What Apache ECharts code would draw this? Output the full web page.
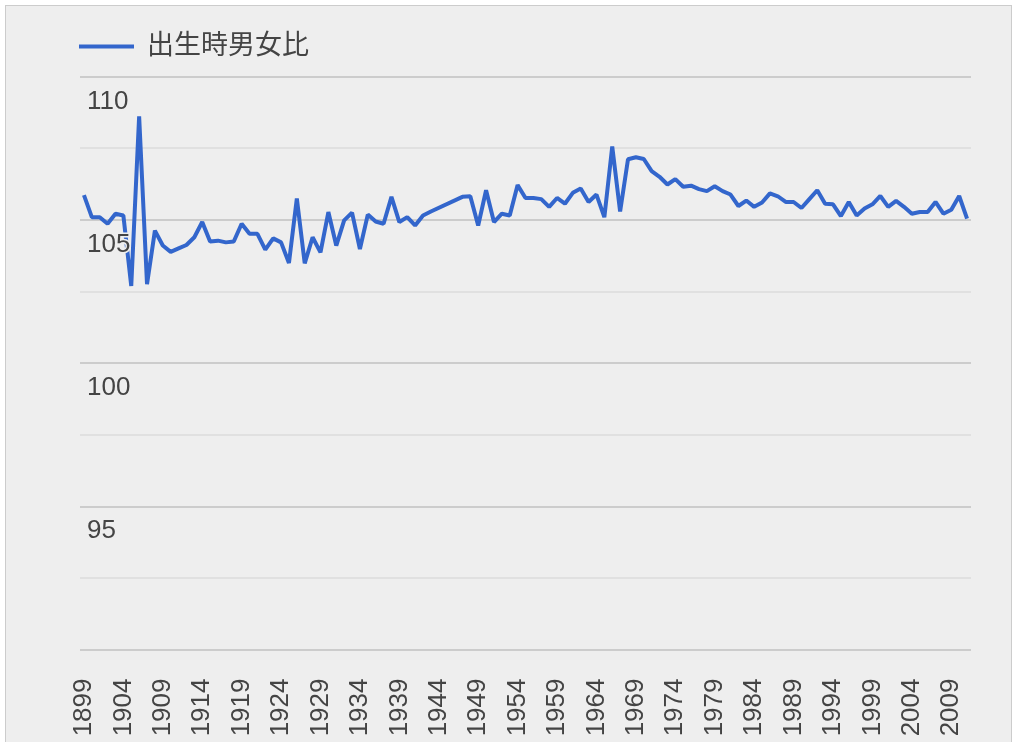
<!DOCTYPE html>
<html>
<head>
<meta charset="utf-8">
<title>出生時男女比</title>
<script src="https://cdn.jsdelivr.net/npm/echarts@6/dist/echarts.min.js"></script>
<style>
  html, body { margin: 0; padding: 0; background: #ffffff; overflow: hidden; }
  #frame {
    position: absolute; left: 5px; top: 5px; width: 1005px; height: 760px;
    border: 1px solid #cccccc; background: #eeeeee;
  }
  #chart { position: absolute; left: 0; top: 0; width: 1017px; height: 742px; }
</style>
</head>
<body>
<div id="frame"></div>
<div id="chart"></div>
<script>
  // --- Data ---
  var firstYear = 1899;
  var lastYear = 2011;
  var seriesName = '出生時男女比';

  // 1944-1946: no data (line joins 1943 to 1947)
  var ratios = [
    105.86, 105.09, 105.09, 104.86, 105.21, 105.15, 102.69, 108.61, 102.75, 104.62, // 1899-1908
    104.10, 103.88, 104.00, 104.12, 104.39, 104.92, 104.24, 104.27, 104.21, 104.24, // 1909-1918
    104.86, 104.51, 104.51, 103.96, 104.35, 104.21, 103.49, 105.74, 103.48, 104.39, // 1919-1928
    103.86, 105.27, 104.10, 104.98, 105.25, 103.98, 105.18, 104.94, 104.86, 105.80, // 1929-1938
    104.92, 105.09, 104.80, 105.15, 105.29, null, null, null, 105.80, 105.82,       // 1939-1948
    104.80, 106.03, 104.92, 105.21, 105.15, 106.21, 105.76, 105.76, 105.72, 105.45, // 1949-1958
    105.76, 105.56, 105.94, 106.09, 105.62, 105.88, 105.09, 107.56, 105.29, 107.11, // 1959-1968
    107.18, 107.12, 106.70, 106.50, 106.23, 106.42, 106.15, 106.19, 106.07, 106.00, // 1969-1978
    106.17, 106.00, 105.88, 105.48, 105.67, 105.45, 105.60, 105.92, 105.82, 105.62, // 1979-1988
    105.62, 105.41, 105.72, 106.03, 105.56, 105.54, 105.13, 105.62, 105.15, 105.39, // 1989-1998
    105.54, 105.83, 105.45, 105.66, 105.45, 105.21, 105.27, 105.27, 105.62, 105.21, // 1999-2008
    105.35, 105.83, 105.04                                                          // 2009-2011
  ];

  var years = [];
  for (var y = firstYear; y <= lastYear; y++) {
    years.push(String(y));
  }

  var fontFamily = 'Arial, "Liberation Sans", "Noto Sans CJK JP", sans-serif';
  var textColor = '#444444';

  var chart = echarts.init(document.getElementById('chart'), null, { renderer: 'canvas' });

  var option = {
    animation: false,
    backgroundColor: 'transparent',
    textStyle: { fontFamily: fontFamily },
    legend: {
      left: 79,
      top: 33,
      padding: 0,
      icon: 'rect',
      itemWidth: 55,
      itemHeight: 4,
      data: [seriesName],
      textStyle: {
        fontSize: 27,
        color: textColor,
        fontFamily: fontFamily,
        padding: [0, 0, 0, 8]
      }
    },
    grid: {
      left: 80,
      right: 46,
      top: 76.5,
      bottom: 92.5
    },
    xAxis: {
      type: 'category',
      data: years,
      boundaryGap: true,
      axisLine: { show: false },
      axisTick: { show: false },
      splitLine: { show: false },
      axisLabel: {
        interval: 4,
        rotate: 90,
        margin: 29,
        fontSize: 26,
        color: textColor,
        fontFamily: fontFamily
      }
    },
    yAxis: [{
      // gridlines only
      type: 'value',
      position: 'left',
      min: 90,
      max: 110,
      interval: 5,
      axisLine: { show: false },
      axisTick: { show: false },
      axisLabel: { show: false },
      splitLine: { show: true, lineStyle: { color: '#cccccc', width: 2 } },
      minorTick: { show: false, splitNumber: 2 },
      minorSplitLine: { show: true, lineStyle: { color: '#e0e0e0', width: 2 } }
    }, {
      // labels drawn above the line
      type: 'value',
      position: 'left',
      min: 90,
      max: 110,
      interval: 5,
      z: 10,
      axisLine: { show: false },
      axisTick: { show: false },
      splitLine: { show: false },
      axisLabel: {
        inside: true,
        margin: 7,
        showMinLabel: false,
        verticalAlign: 'top',
        padding: [12, 0, 0, 0],
        fontSize: 26,
        color: textColor,
        fontFamily: fontFamily,
        textBorderColor: '#eeeeee',
        textBorderWidth: 3
      }
    }],
    series: [{
      name: seriesName,
      type: 'line',
      yAxisIndex: 0,
      data: ratios,
      connectNulls: true,
      symbol: 'none',
      lineStyle: { color: '#3366cc', width: 4 },
      itemStyle: { color: '#3366cc' }
    }]
  };

  chart.setOption(option);

  window.addEventListener('resize', function () {
    chart.resize();
  });
</script>
</body>
</html>
